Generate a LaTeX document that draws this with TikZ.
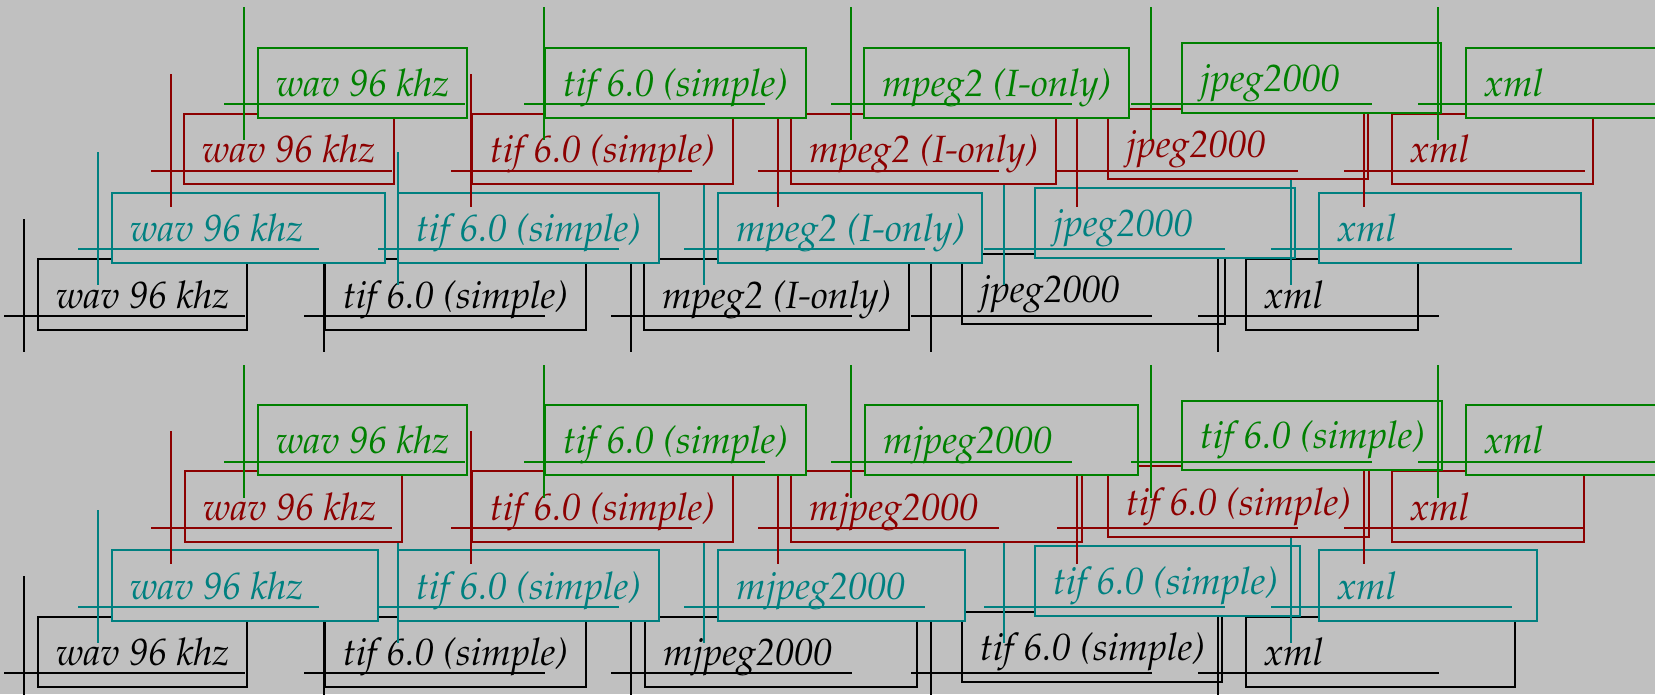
\documentclass[tikz,border=0pt]{standalone}
\usepackage[T1]{fontenc}
\usepackage{mathpazo}
\definecolor{bgc}{RGB}{192,192,192}
\definecolor{cg}{RGB}{0,128,0}
\definecolor{cr}{RGB}{140,0,0}
\definecolor{ct}{RGB}{0,128,128}
\definecolor{ck}{RGB}{0,0,0}
\tikzset{
  boxline/.style={line width=1.2pt, fill=bgc},
  crossline/.style={line width=1.2pt},
  lbl/.style={anchor=base west, inner sep=0pt, font=\itshape\fontsize{38}{40}\selectfont}
}
% #1 colour, #2 cx, #3 cy, #4 x1, #5 y1, #6 x2, #7 y2, #8 text, #9 name
\newcommand{\elem}[9]{%
  \draw[#1, boxline] (#4,#5) rectangle (#6,#7);
  \node[#1, lbl] (#9) at (#4+18,#7-22) {#8};
  \draw[#1, crossline] (#2-20,#3) -- (#2+221,#3);
  \draw[#1, crossline] (#2,#3-97) -- (#2,#3+36);
}
\begin{document}
\begin{tikzpicture}[x=1pt,y=-1pt]
\fill[bgc] (0,0) rectangle (1655,694);
\useasboundingbox (0,0) rectangle (1655,694);
\begin{scope}
\clip (0,0) rectangle (1655,694);
% ---------------- top half ----------------
\elem{ck}{24}{316}{38}{259}{247}{330}{wav 96 khz}{kA1}
\elem{ck}{324}{316}{325}{259}{586}{330}{tif 6.0 (simple)}{kA2}
\elem{ck}{631}{316}{644}{259}{909}{330}{mpeg2 (I-only)}{kA3}
\elem{ck}{931}{316}{962}{254}{1225}{324}{jpeg2000}{kA4}
\elem{ck}{1218}{316}{1246}{259}{1418}{330}{xml}{kA5}
\elem{ct}{98}{249}{112}{193}{385}{263}{wav 96 khz}{tA1}
\elem{ct}{398}{249}{398}{193}{659}{263}{tif 6.0 (simple)}{tA2}
\elem{ct}{704}{249}{718}{193}{982}{263}{mpeg2 (I-only)}{tA3}
\elem{ct}{1004}{249}{1035}{188}{1295}{258}{jpeg2000}{tA4}
\elem{ct}{1291}{249}{1319}{193}{1581}{263}{xml}{tA5}
\elem{cr}{171}{171}{184}{114}{394}{184}{wav 96 khz}{rA1}
\elem{cr}{471}{171}{472}{114}{733}{184}{tif 6.0 (simple)}{rA2}
\elem{cr}{778}{171}{791}{114}{1056}{184}{mpeg2 (I-only)}{rA3}
\elem{cr}{1077}{171}{1108}{109}{1368}{179}{jpeg2000}{rA4}
\elem{cr}{1364}{171}{1392}{114}{1593}{184}{xml}{rA5}
\elem{cg}{244}{104}{258}{48}{467}{118}{wav 96 khz}{gA1}
\elem{cg}{544}{104}{545}{48}{806}{118}{tif 6.0 (simple)}{gA2}
\elem{cg}{851}{104}{864}{48}{1129}{118}{mpeg2 (I-only)}{gA3}
\elem{cg}{1151}{104}{1182}{43}{1441}{113}{jpeg2000}{gA4}
\elem{cg}{1438}{104}{1466}{48}{1700}{118}{xml}{gA5}
% ---------------- bottom half ----------------
\elem{ck}{24}{673}{38}{617}{247}{687}{wav 96 khz}{kB1}
\elem{ck}{324}{673}{325}{617}{586}{687}{tif 6.0 (simple)}{kB2}
\elem{ck}{631}{673}{645}{617}{917}{687}{mjpeg2000}{kB3}
\elem{ck}{931}{673}{962}{612}{1222}{682}{tif 6.0 (simple)}{kB4}
\elem{ck}{1218}{673}{1246}{617}{1515}{687}{xml}{kB5}
\elem{ct}{98}{607}{112}{550}{378}{621}{wav 96 khz}{tB1}
\elem{ct}{398}{607}{398}{550}{659}{621}{tif 6.0 (simple)}{tB2}
\elem{ct}{704}{607}{718}{550}{965}{621}{mjpeg2000}{tB3}
\elem{ct}{1004}{607}{1035}{546}{1300}{616}{tif 6.0 (simple)}{tB4}
\elem{ct}{1291}{607}{1319}{550}{1537}{621}{xml}{tB5}
\elem{cr}{171}{528}{185}{471}{402}{542}{wav 96 khz}{rB1}
\elem{cr}{471}{528}{472}{471}{733}{542}{tif 6.0 (simple)}{rB2}
\elem{cr}{778}{528}{791}{471}{1082}{542}{mjpeg2000}{rB3}
\elem{cr}{1077}{528}{1108}{466}{1369}{537}{tif 6.0 (simple)}{rB4}
\elem{cr}{1364}{528}{1392}{471}{1584}{542}{xml}{rB5}
\elem{cg}{244}{462}{258}{405}{467}{475}{wav 96 khz}{gB1}
\elem{cg}{544}{462}{545}{405}{806}{475}{tif 6.0 (simple)}{gB2}
\elem{cg}{851}{462}{865}{405}{1138}{475}{mjpeg2000}{gB3}
\elem{cg}{1151}{462}{1182}{401}{1442}{470}{tif 6.0 (simple)}{gB4}
\elem{cg}{1438}{462}{1466}{405}{1700}{475}{xml}{gB5}
\end{scope}
\end{tikzpicture}
\end{document}
